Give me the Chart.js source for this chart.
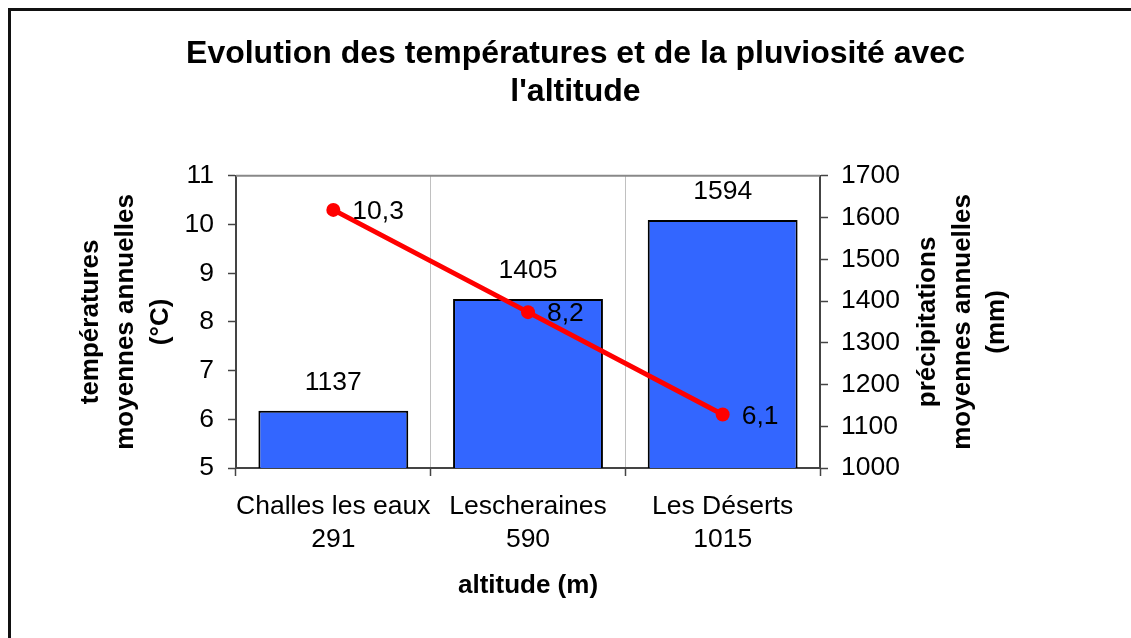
<!DOCTYPE html>
<html>
<head>
<meta charset="utf-8">
<script src="https://cdn.jsdelivr.net/npm/chart.js@4/dist/chart.umd.min.js"></script>
<style>
  html, body { margin: 0; padding: 0; background: #fff; }
  #wrap { position: relative; width: 1131px; height: 638px; overflow: hidden; }
  #frame { position: absolute; left: 8px; top: 8px; width: 1200px; height: 700px;
           border-left: 3px solid #111; border-top: 3px solid #111; pointer-events: none; }
  canvas { position: absolute; left: 0; top: 0; }
</style>
</head>
<body>
<div id="wrap">
  <canvas id="c" width="1131" height="638"></canvas>
  <div id="frame"></div>
</div>
<script>
const categories = [["Challes les eaux", "291"], ["Lescheraines", "590"], ["Les Déserts", "1015"]];
const precipitations = [1137, 1405, 1594];
const temperatures = [10.3, 8.2, 6.1];
const titleLines = ["Evolution des températures et de la pluviosité avec", "l'altitude"];
const leftTitle = ["températures", "moyennes annuelles", "(°C)"];
const rightTitle = ["précipitations", "moyennes annuelles", "(mm)"];
const xTitle = "altitude (m)";

const FONT = "'Liberation Sans', Arial, sans-serif";

const extras = {
  id: 'extras',
  afterDatasetsDraw(chart) {
    const ctx = chart.ctx;
    const area = chart.chartArea;
    ctx.save();
    // plot area top border
    ctx.strokeStyle = '#888';
    ctx.lineWidth = 2;
    ctx.beginPath();
    ctx.moveTo(area.left, area.top);
    ctx.lineTo(area.right, area.top);
    ctx.stroke();
    // data labels
    ctx.fillStyle = '#000';
    ctx.font = '26.5px ' + FONT;
    chart.data.datasets.forEach((ds, i) => {
      const meta = chart.getDatasetMeta(i);
      meta.data.forEach((el, j) => {
        const v = ds.data[j];
        const txt = String(v).replace('.', ',');
        if (ds.type === 'bar') {
          ctx.textAlign = 'center';
          ctx.textBaseline = 'middle';
          ctx.fillText(txt, el.x, el.y - 28);
        } else {
          ctx.textAlign = 'left';
          ctx.textBaseline = 'middle';
          ctx.fillText(txt, el.x + 19, el.y + 2);
        }
      });
    });
    // right axis title (reading bottom to top)
    ctx.font = 'bold 26px ' + FONT;
    ctx.textAlign = 'center';
    ctx.textBaseline = 'middle';
    const cy = (area.top + area.bottom) / 2;
    rightTitle.forEach((line, k) => {
      ctx.save();
      ctx.translate(area.right + 108 + k * 34.5, cy);
      ctx.rotate(-Math.PI / 2);
      ctx.fillText(line, 0, 0);
      ctx.restore();
    });
    ctx.restore();
  }
};

new Chart(document.getElementById('c'), {
  data: {
    labels: categories,
    datasets: [
      {
        type: 'line',
        label: 'Températures',
        data: temperatures,
        yAxisID: 'y',
        borderColor: '#ff0000',
        backgroundColor: '#ff0000',
        borderWidth: 5,
        pointRadius: 7,
        pointBorderWidth: 0,
        pointBackgroundColor: '#ff0000',
        tension: 0,
        order: 0
      },
      {
        type: 'bar',
        label: 'Précipitations',
        data: precipitations,
        yAxisID: 'y1',
        backgroundColor: '#3366ff',
        borderColor: '#000',
        borderWidth: 2,
        categoryPercentage: 1,
        barPercentage: 0.77,
        order: 1
      }
    ]
  },
  options: {
    responsive: false,
    animation: false,
    devicePixelRatio: 1,
    layout: { padding: { left: 20, right: 0, top: 0, bottom: 0 } },
    plugins: {
      legend: { display: false },
      tooltip: { enabled: false },
      title: {
        display: true,
        text: titleLines,
        color: '#000',
        font: { family: FONT, size: 32, weight: 'bold', lineHeight: 1.2 },
        padding: { top: 35, bottom: 64 }
      }
    },
    scales: {
      x: {
        offset: true,
        afterFit(s) { s.height = 170; },
        grid: { offset: true, color: '#c0c0c0', lineWidth: 1, drawTicks: true, tickLength: 8, tickColor: '#444', tickWidth: 1.5 },
        border: { display: true, color: '#444', width: 2 },
        ticks: { color: '#000', font: { family: FONT, size: 26.5, lineHeight: 1.25 }, padding: 14, maxRotation: 0, autoSkip: false },
        title: { display: true, text: xTitle, color: '#000', font: { family: FONT, size: 26, weight: 'bold', lineHeight: 1.2 }, padding: { top: 0, bottom: 37 } }
      },
      y: {
        position: 'left',
        min: 5, max: 11,
        afterFit(s) { s.width = 216; },
        ticks: { stepSize: 1, color: '#000', font: { family: FONT, size: 26.5 }, padding: 14 },
        grid: { drawOnChartArea: false, drawTicks: true, tickLength: 8, tickColor: '#444', tickWidth: 1.5 },
        border: { display: true, color: '#444', width: 2 },
        title: { display: true, text: leftTitle, color: '#000', font: { family: FONT, size: 26, weight: 'bold', lineHeight: 1.33 }, padding: { top: 54, bottom: 0 } }
      },
      y1: {
        position: 'right',
        min: 1000, max: 1700,
        afterFit(s) { s.width = 311; },
        ticks: { stepSize: 100, color: '#000', font: { family: FONT, size: 26.5 }, padding: 13, callback: (v) => String(v) },
        grid: { drawOnChartArea: false, drawTicks: true, tickLength: 8, tickColor: '#444', tickWidth: 1.5 },
        border: { display: true, color: '#444', width: 2 },
        title: { display: false }
      }
    }
  },
  plugins: [extras]
});
</script>
</body>
</html>
